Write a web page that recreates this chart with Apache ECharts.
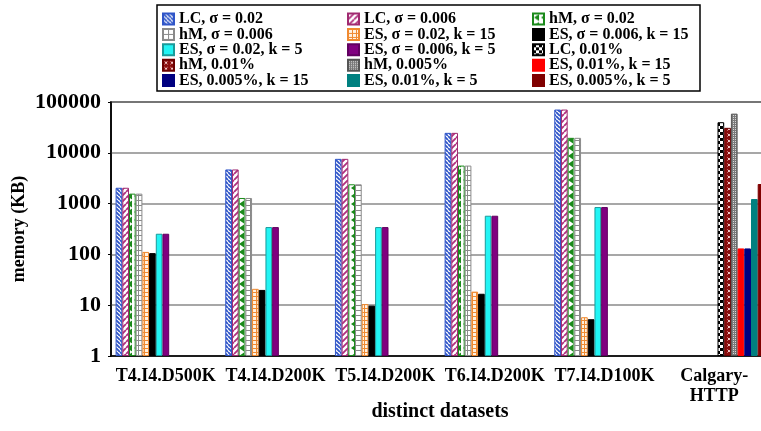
<!DOCTYPE html>
<html>
<head>
<meta charset="utf-8">
<script src="https://cdn.jsdelivr.net/npm/echarts@6/dist/echarts.min.js"></script>
<style>
  html, body { margin: 0; padding: 0; background: #fff; }
  #chart { width: 761px; height: 431px; }
</style>
</head>
<body>
<div id="chart"></div>
<script>
// Datasets on the x axis
const categories = ['T4.I4.D500K', 'T4.I4.D200K', 'T5.I4.D200K', 'T6.I4.D200K', 'T7.I4.D100K', 'Calgary-\nHTTP'];

// Memory usage in KB per method
const lcS002 = [2050, 4700, 7600, 24700, 71000, null];
const lcS0006 = [2050, 4700, 7600, 24700, 71000, null];
const hmS002 = [1570, 1290, 2400, 5600, 19700, null];
const hmS0006 = [1570, 1290, 2400, 5600, 19700, null];
const esS002k15 = [112, 21, 10.5, 18.5, 5.8, null];
const esS0006k15 = [106, 20, 9.8, 16.8, 5.3, null];
const esS002k5 = [255, 345, 345, 577, 855, null];
const esS0006k5 = [255, 345, 345, 577, 855, null];
const lc001 = [null, null, null, null, null, 40000];
const hm001 = [null, null, null, null, null, 31000];
const hm0005 = [null, null, null, null, null, 59000];
const es001k15 = [null, null, null, null, null, 131];
const es0005k15 = [null, null, null, null, null, 131];
const es001k5 = [null, null, null, null, null, 1230];
const es0005k5 = [null, null, null, null, null, 2430];

const yTicks = [1, 10, 100, 1000, 10000, 100000];

// ---- fill patterns ----
function makeCanvas(w, h, draw) {
  const c = document.createElement('canvas');
  c.width = w; c.height = h;
  const ctx = c.getContext('2d');
  draw(ctx, w, h);
  return { image: c, repeat: 'repeat' };
}
function diag(bg, fg, size, lw, forward) {
  return makeCanvas(size, size, (ctx, w, h) => {
    ctx.fillStyle = bg; ctx.fillRect(0, 0, w, h);
    ctx.strokeStyle = fg; ctx.lineWidth = lw;
    ctx.beginPath();
    for (let k = -1; k <= 1; k++) {
      if (forward) { ctx.moveTo(k * w, h); ctx.lineTo(k * w + w, 0); }
      else { ctx.moveTo(k * w, 0); ctx.lineTo(k * w + w, h); }
    }
    ctx.stroke();
  });
}
const patLC002 = diag('#ffffff', '#2f55c8', 4, 1.8, false);
const patLC0006 = diag('#ffffff', '#b0307e', 6, 1.8, true);
const patHM002 = makeCanvas(7, 8, (ctx, w, h) => {
  ctx.fillStyle = '#fff'; ctx.fillRect(0, 0, w, h);
  ctx.fillStyle = '#1a8a1a';
  ctx.beginPath(); ctx.moveTo(1, 4); ctx.lineTo(6, 0.5); ctx.lineTo(6, 7.5); ctx.closePath(); ctx.fill();
});
const patHM0006 = makeCanvas(7, 5, (ctx, w, h) => {
  ctx.fillStyle = '#fff'; ctx.fillRect(0, 0, w, h);
  ctx.fillStyle = '#8a8a8a';
  ctx.fillRect(0, 0, w, 1);
  ctx.fillRect(w - 2, 0, 1, h);
});
const patES002k15 = makeCanvas(4, 4, (ctx, w, h) => {
  ctx.fillStyle = '#fff1e0'; ctx.fillRect(0, 0, w, h);
  ctx.fillStyle = '#f08a30';
  ctx.fillRect(0, 0, w, 1);
  ctx.fillRect(0, 0, 1, h);
});
const patLC001 = makeCanvas(6, 6, (ctx, w, h) => {
  ctx.fillStyle = '#fff'; ctx.fillRect(0, 0, w, h);
  ctx.fillStyle = '#000';
  ctx.fillRect(0, 0, 3, 3); ctx.fillRect(3, 3, 3, 3);
});
const patHM001 = makeCanvas(6, 6, (ctx, w, h) => {
  ctx.fillStyle = '#8b0d0d'; ctx.fillRect(0, 0, w, h);
  ctx.strokeStyle = '#f4c8c8'; ctx.lineWidth = 1;
  ctx.beginPath();
  ctx.moveTo(1.5, 1.5); ctx.lineTo(4.5, 4.5);
  ctx.moveTo(4.5, 1.5); ctx.lineTo(1.5, 4.5);
  ctx.stroke();
});
const patHM0005 = makeCanvas(4, 4, (ctx, w, h) => {
  ctx.fillStyle = '#7a7a7a'; ctx.fillRect(0, 0, w, h);
  ctx.fillStyle = '#d8d8d8';
  ctx.fillRect(1, 1, 1, 1); ctx.fillRect(3, 3, 1, 1);
  ctx.fillRect(3, 1, 1, 1); ctx.fillRect(1, 3, 1, 1);
});

const seriesDefs = [
  ['LC, σ = 0.02', lcS002, patLC002, '#2f55c8'],
  ['LC, σ = 0.006', lcS0006, patLC0006, '#a02a70'],
  ['hM, σ = 0.02', hmS002, patHM002, '#1a8a1a'],
  ['hM, σ = 0.006', hmS0006, patHM0006, '#8a8a8a'],
  ['ES, σ = 0.02, k = 15', esS002k15, patES002k15, '#f08a30'],
  ['ES, σ = 0.006, k = 15', esS0006k15, '#000000', '#000000'],
  ['ES, σ = 0.02, k = 5', esS002k5, '#22f4f4', '#1a9a9a'],
  ['ES, σ = 0.006, k = 5', esS0006k5, '#800080', '#600060'],
  ['LC, 0.01%', lc001, patLC001, '#000000'],
  ['hM, 0.01%', hm001, patHM001, '#6a0000'],
  ['hM, 0.005%', hm0005, patHM0005, '#555555'],
  ['ES, 0.01%, k = 15', es001k15, '#ff0000', '#ff0000'],
  ['ES, 0.005%, k = 15', es0005k15, '#000080', '#000080'],
  ['ES, 0.01%, k = 5', es001k5, '#008080', '#008080'],
  ['ES, 0.005%, k = 5', es0005k5, '#800000', '#800000']
];

const series = seriesDefs.map(([name, data, fill, border]) => ({
  name: name,
  type: 'bar',
  data: data,
  barGap: '0%',
  barCategoryGap: '8.4%',
  itemStyle: { color: fill, borderColor: border, borderWidth: 1 },
  emphasis: { disabled: true }
}));

const names = seriesDefs.map(d => d[0]);
const legendFont = { fontFamily: 'Liberation Serif', fontWeight: 'bold', fontSize: 16, color: '#000' };
function legendCol(idx, left) {
  return {
    orient: 'vertical',
    left: left,
    top: 11,
    padding: 0,
    itemGap: -0.6,
    itemWidth: 11,
    itemHeight: 11,
    icon: 'rect',
    selectedMode: false,
    textStyle: legendFont,
    data: idx.map(i => names[i])
  };
}

const serif = 'Liberation Serif';
const chart = echarts.init(document.getElementById('chart'), null, { renderer: 'canvas' });
chart.setOption({
  animation: false,
  backgroundColor: '#ffffff',
  graphic: [{
    type: 'rect',
    shape: { x: 157, y: 5, width: 543, height: 86 },
    style: { fill: '#fff', stroke: '#000', lineWidth: 1.5 },
    z: -1
  }],
  legend: [
    legendCol([0, 3, 6, 9, 12], 162),
    legendCol([1, 4, 7, 10, 13], 347),
    legendCol([2, 5, 8, 11, 14], 532)
  ],
  grid: {
    left: 111, top: 102, width: 658, height: 254,
    outerBoundsMode: 'none',
    containLabel: false,
    show: true, borderColor: '#000', borderWidth: 1.5, backgroundColor: '#fff'
  },
  xAxis: {
    type: 'category',
    data: categories,
    name: 'distinct datasets',
    nameLocation: 'middle',
    nameGap: 46,
    nameMoveOverlap: false,
    nameTextStyle: { fontFamily: serif, fontWeight: 'bold', fontSize: 20, color: '#000' },
    axisLine: { lineStyle: { color: '#000', width: 1.5 } },
    axisTick: { inside: true, length: 4, lineStyle: { color: '#666' } },
    axisLabel: { fontFamily: serif, fontWeight: 'bold', fontSize: 18, color: '#000', margin: 10, lineHeight: 20, interval: 0 }
  },
  yAxis: {
    type: 'log',
    logBase: 10,
    min: yTicks[0],
    max: yTicks[yTicks.length - 1],
    name: 'memory (KB)',
    nameLocation: 'middle',
    nameGap: 83,
    nameMoveOverlap: false,
    nameTextStyle: { fontFamily: serif, fontWeight: 'bold', fontSize: 18, color: '#000' },
    axisLine: { show: true, lineStyle: { color: '#000', width: 1.5 } },
    axisTick: { show: true, length: 3, lineStyle: { color: '#000' } },
    axisLabel: {
      fontFamily: serif, fontWeight: 'bold', fontSize: 22, color: '#000', margin: 10,
      formatter: v => String(Math.round(v))
    },
    splitLine: { lineStyle: { color: '#8a8a8a', width: 1.5 } }
  },
  series: series
});
</script>
</body>
</html>
